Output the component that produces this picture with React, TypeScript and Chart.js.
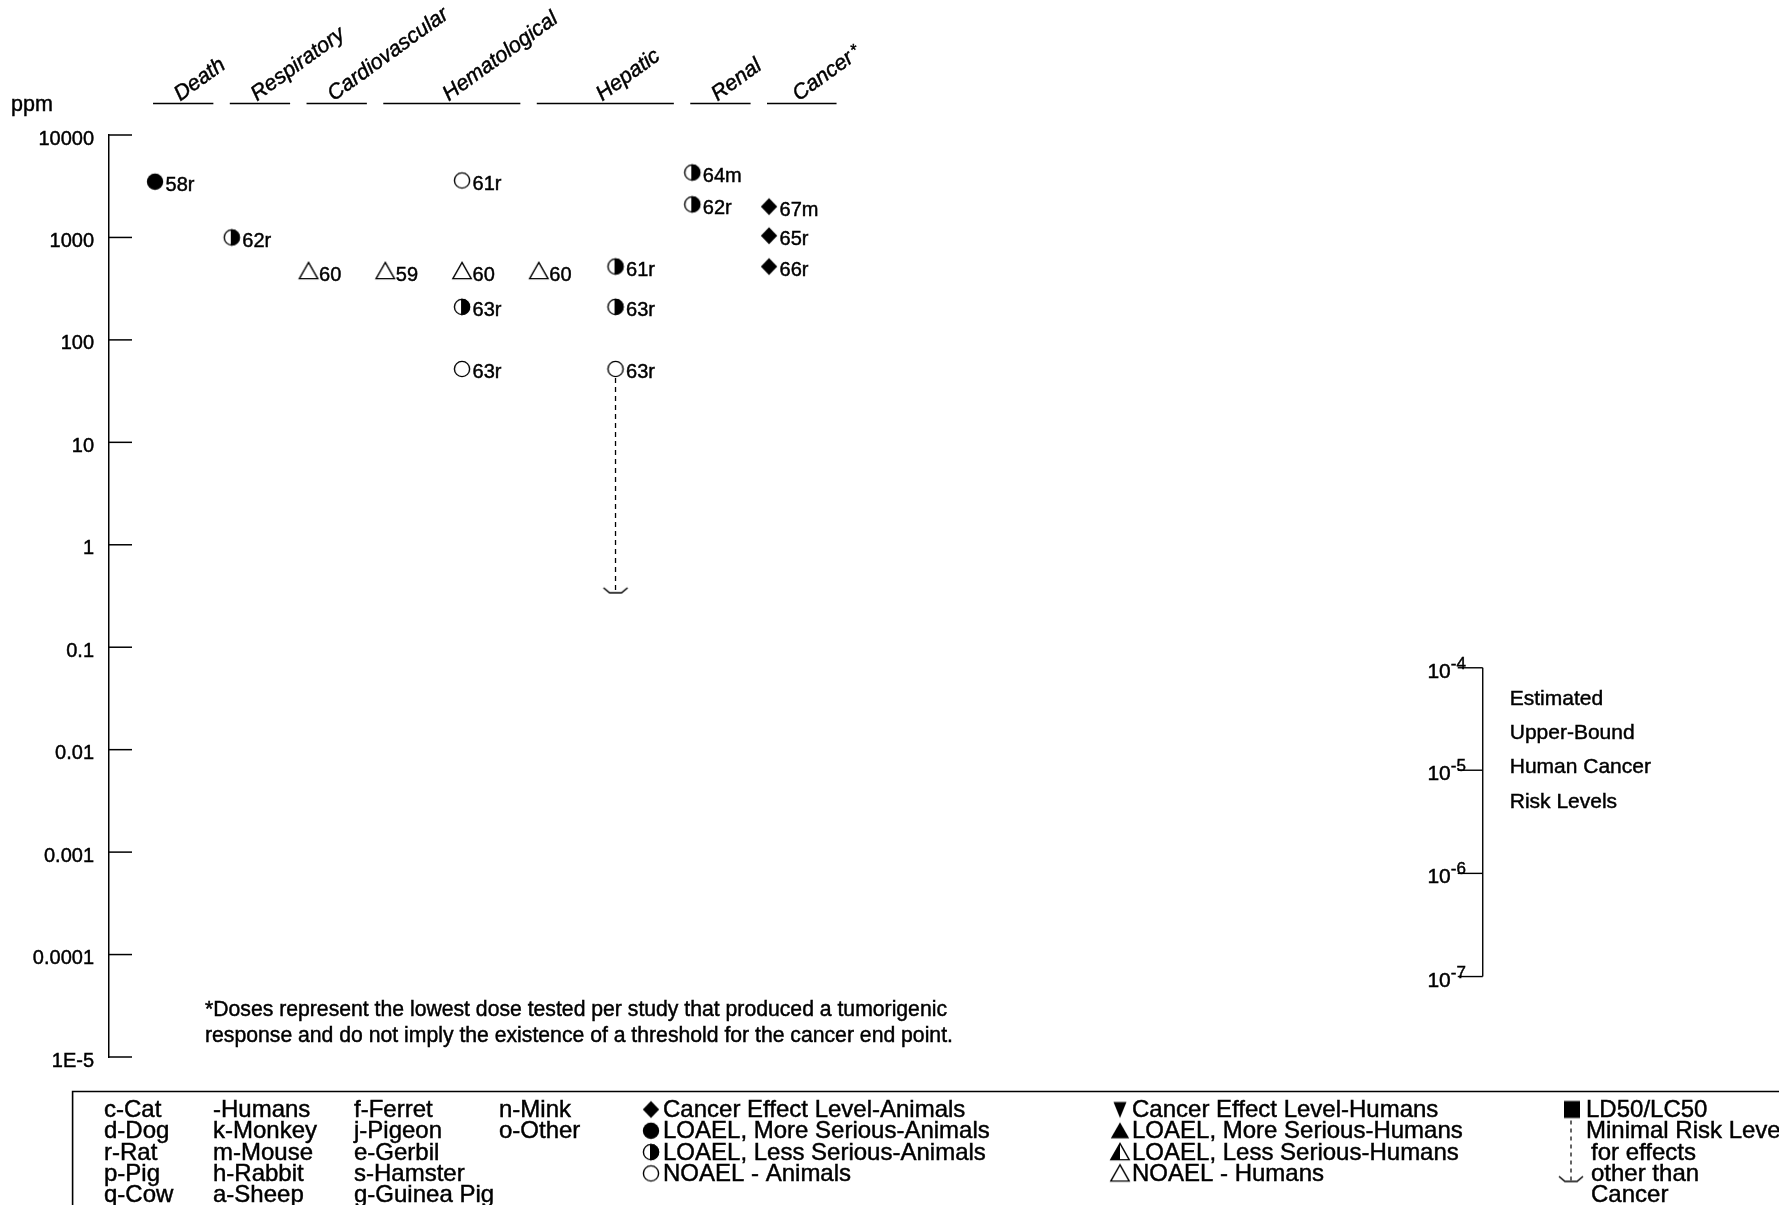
import React, { useEffect, useRef } from 'react';
import { Chart, registerables } from 'chart.js';

Chart.register(...registerables);

const FONT = "'Liberation Sans', Arial, Helvetica, sans-serif";

// ---------------- data ----------------
const axisUnit = 'ppm';
const categoryNames = ['Death', 'Respiratory', 'Cardiovascular', 'Hematological', 'Hepatic', 'Renal', 'Cancer'];
const categoryMarks = ['', '', '', '', '', '', '*'];
const categoryFirstColumn = [0, 1, 2, 3, 5, 7, 8];
const categoryLastColumn = [0, 1, 2, 4, 6, 7, 8];

const yTickValues = [10000, 1000, 100, 10, 1, 0.1, 0.01, 0.001, 0.0001, 0.00001];
const yTickLabels = ['10000', '1000', '100', '10', '1', '0.1', '0.01', '0.001', '0.0001', '1E-5'];

const pointColumns = [0, 1, 2, 3, 4, 4, 4, 4, 5, 6, 6, 6, 7, 7, 8, 8, 8];
const pointValues = [3500, 1000, 470, 470, 3600, 470, 210, 52, 470, 520, 210, 52, 4300, 2100, 2000, 1040, 520];
const pointLabels = ['58r', '62r', '60', '59', '61r', '60', '63r', '63r', '60', '61r', '63r', '63r', '64m', '62r', '67m', '65r', '66r'];
const pointTypes = [
  'loaelMore', 'loaelLess', 'noaelHuman', 'noaelHuman', 'noael', 'noaelHuman', 'loaelLess', 'noael',
  'noaelHuman', 'loaelLess', 'loaelLess', 'noael', 'loaelLess', 'loaelLess', 'cancer', 'cancer', 'cancer',
];

const seriesTypes = ['cancer', 'loaelMore', 'loaelLess', 'noael', 'noaelHuman'];
const seriesNames = [
  'Cancer Effect Level-Animals', 'LOAEL, More Serious-Animals', 'LOAEL, Less Serious-Animals',
  'NOAEL - Animals', 'NOAEL - Humans',
];

const mrlColumn = 6;
const mrlStartValue = 52;
const mrlValue = 0.34;

const riskExponents = ['-4', '-5', '-6', '-7'];
const riskConcentrations = [0.063, 0.0063, 0.00062, 0.000061];
const riskCaption = ['Estimated', 'Upper-Bound', 'Human Cancer', 'Risk Levels'];

const footnoteLines = [
  '*Doses represent the lowest dose tested per study that produced a tumorigenic',
  'response and do not imply the existence of a threshold for the cancer end point.',
];

const speciesColumns = [
  ['c-Cat', 'd-Dog', 'r-Rat', 'p-Pig', 'q-Cow'],
  ['-Humans', 'k-Monkey', 'm-Mouse', 'h-Rabbit', 'a-Sheep'],
  ['f-Ferret', 'j-Pigeon', 'e-Gerbil', 's-Hamster', 'g-Guinea Pig'],
  ['n-Mink', 'o-Other'],
];
const animalKeyKinds = ['cancer', 'loaelMore', 'loaelLess', 'noael'];
const animalKeyText = ['Cancer Effect Level-Animals', 'LOAEL, More Serious-Animals', 'LOAEL, Less Serious-Animals', 'NOAEL - Animals'];
const humanKeyKinds = ['cancerHuman', 'loaelMoreHuman', 'loaelLessHuman', 'noaelHuman'];
const humanKeyText = ['Cancer Effect Level-Humans', 'LOAEL, More Serious-Humans', 'LOAEL, Less Serious-Humans', 'NOAEL - Humans'];
const otherKeyText = ['LD50/LC50', 'Minimal Risk Level', 'for effects', 'other than', 'Cancer'];

// ---------------- layout ----------------
const W = 1779;
const H = 1205;
const X_MIN = -0.6;
const X_MAX = 21.03;
const AXIS_LEFT = 109;
const HEADER_Y = 103.5;
const RISK_RULER_COL = 17.3;
const LEGEND_TOP = 1091.5;
const LEGEND_LEFT = 72.6;
const LEGEND_ROW0 = 1110.5;
const LEGEND_GAP = 21.3;
const TEXT_STROKE = 0.45;

function makeMarker(kind: string): HTMLCanvasElement {
  const w = 24;
  const h = 24;
  const c = document.createElement('canvas');
  c.width = w;
  c.height = h;
  const g = c.getContext('2d') as CanvasRenderingContext2D;
  const cx = w / 2;
  const cy = h / 2;
  g.strokeStyle = '#000';
  g.fillStyle = '#000';
  g.lineWidth = 1.4;
  const tri = (up: boolean) => {
    g.beginPath();
    if (up) {
      g.moveTo(cx, cy - 8.6);
      g.lineTo(cx + 9.2, cy + 7.6);
      g.lineTo(cx - 9.2, cy + 7.6);
    } else {
      g.moveTo(cx, cy + 8.6);
      g.lineTo(cx + 6.5, cy - 7.6);
      g.lineTo(cx - 6.5, cy - 7.6);
    }
    g.closePath();
  };
  switch (kind) {
    case 'loaelMore':
      g.beginPath();
      g.arc(cx, cy, 8.2, 0, Math.PI * 2);
      g.fill();
      break;
    case 'loaelLess':
      g.beginPath();
      g.arc(cx, cy, 7.6, 0, Math.PI * 2);
      g.fillStyle = '#fff';
      g.fill();
      g.stroke();
      g.beginPath();
      g.moveTo(cx - 1, cy - 8.2);
      g.arc(cx, cy, 8.2, -Math.PI / 2, Math.PI / 2);
      g.lineTo(cx - 1, cy + 8.2);
      g.closePath();
      g.fillStyle = '#000';
      g.fill();
      break;
    case 'noael':
      g.beginPath();
      g.arc(cx, cy, 7.6, 0, Math.PI * 2);
      g.fillStyle = '#fff';
      g.fill();
      g.stroke();
      break;
    case 'noaelHuman':
      tri(true);
      g.fillStyle = '#fff';
      g.fill();
      g.stroke();
      break;
    case 'loaelMoreHuman':
      tri(true);
      g.fill();
      break;
    case 'cancerHuman':
      tri(false);
      g.fill();
      break;
    case 'loaelLessHuman':
      tri(true);
      g.fillStyle = '#fff';
      g.fill();
      g.stroke();
      g.beginPath();
      g.moveTo(cx, cy - 8.6);
      g.lineTo(cx, cy + 7.6);
      g.lineTo(cx - 9.2, cy + 7.6);
      g.closePath();
      g.fillStyle = '#000';
      g.fill();
      break;
    case 'cancer':
      g.beginPath();
      g.moveTo(cx, cy - 8.6);
      g.lineTo(cx + 8.2, cy);
      g.lineTo(cx, cy + 8.6);
      g.lineTo(cx - 8.2, cy);
      g.closePath();
      g.fill();
      break;
    case 'ld50':
      g.fillRect(cx - 8, cy - 8.5, 16, 17);
      break;
    default:
      break;
  }
  return c;
}

function makeCup(): HTMLCanvasElement {
  const c = document.createElement('canvas');
  c.width = 28;
  c.height = 14;
  const g = c.getContext('2d') as CanvasRenderingContext2D;
  g.strokeStyle = '#000';
  g.lineWidth = 1.5;
  g.beginPath();
  g.moveTo(2, 2);
  g.lineTo(8, 7);
  g.lineTo(20, 7);
  g.lineTo(26, 2);
  g.stroke();
  return c;
}

function text(ctx: CanvasRenderingContext2D, t: string, x: number, y: number) {
  ctx.fillText(t, x, y);
  ctx.save();
  ctx.lineWidth = TEXT_STROKE;
  ctx.strokeText(t, x, y);
  ctx.restore();
}

export default function App() {
  const ref = useRef<HTMLCanvasElement | null>(null);

  useEffect(() => {
    document.body.style.margin = '0';
    document.body.style.overflow = 'hidden';
    const canvas = ref.current;
    if (!canvas) return;

    const markers: Record<string, HTMLCanvasElement> = {};
    ['loaelMore', 'loaelLess', 'noael', 'noaelHuman', 'loaelMoreHuman', 'cancerHuman', 'loaelLessHuman', 'cancer', 'ld50'].forEach(
      (k) => (markers[k] = makeMarker(k)),
    );
    const cup = makeCup();

    const datasets: any[] = seriesTypes.map((t, si) => {
      const idx = pointTypes.map((p, i) => (p === t ? i : -1)).filter((i) => i >= 0);
      return {
        label: seriesNames[si],
        data: idx.map((i) => ({ x: pointColumns[i], y: pointValues[i] })),
        pointText: idx.map((i) => pointLabels[i]),
        pointStyle: markers[t],
        pointRadius: 8,
        showLine: false,
        order: 0,
      };
    });
    datasets.push({
      label: 'Minimal Risk Level',
      data: [
        { x: mrlColumn, y: mrlStartValue },
        { x: mrlColumn, y: mrlValue },
      ],
      showLine: true,
      borderColor: '#000',
      borderWidth: 1.3,
      borderDash: [5, 4],
      pointStyle: [cup, cup],
      pointRadius: [0, 8],
      order: 1,
    });

    const overlay = {
      id: 'overlay',
      afterDraw(chart: any) {
        const ctx: CanvasRenderingContext2D = chart.ctx;
        const xs = chart.scales.x;
        const ys = chart.scales.y;
        const area = chart.chartArea;
        ctx.save();
        ctx.fillStyle = '#000';
        ctx.strokeStyle = '#000';

        // unit label
        ctx.font = `21.5px ${FONT}`;
        ctx.textAlign = 'left';
        ctx.textBaseline = 'middle';
        text(ctx, axisUnit, 11, 105);

        // inward tick marks
        ctx.lineWidth = 1.5;
        yTickValues.forEach((v) => {
          const y = ys.getPixelForValue(v);
          ctx.beginPath();
          ctx.moveTo(area.left, y);
          ctx.lineTo(area.left + 23, y);
          ctx.stroke();
        });

        // category headers
        const step = xs.getPixelForValue(1) - xs.getPixelForValue(0);
        const ang = (36 * Math.PI) / 180;
        categoryNames.forEach((name, i) => {
          const x0 = xs.getPixelForValue(categoryFirstColumn[i]) - 2;
          const x1 = xs.getPixelForValue(categoryLastColumn[i]) + (categoryMarks[i] ? 0.88 : 0.76) * step;
          ctx.lineWidth = 1.5;
          ctx.beginPath();
          ctx.moveTo(x0, HEADER_Y);
          ctx.lineTo(x1, HEADER_Y);
          ctx.stroke();
          const cx = (x0 + x1) / 2;
          ctx.save();
          ctx.translate(cx - 3, HEADER_Y - 2);
          ctx.rotate(-ang);
          ctx.font = `italic 21.5px ${FONT}`;
          ctx.textBaseline = 'alphabetic';
          ctx.textAlign = 'left';
          text(ctx, name, 0, 0);
          if (categoryMarks[i]) {
            const w = ctx.measureText(name).width;
            ctx.font = `16px ${FONT}`;
            ctx.rotate(ang);
            const ax = (w + 9) * Math.cos(ang);
            const ay = -(w + 9) * Math.sin(ang);
            text(ctx, categoryMarks[i], ax - 12, ay + 1);
          }
          ctx.restore();
        });

        // point labels
        ctx.font = `20px ${FONT}`;
        ctx.textAlign = 'left';
        ctx.textBaseline = 'alphabetic';
        chart.data.datasets.forEach((ds: any, di: number) => {
          if (!ds.pointText) return;
          const meta = chart.getDatasetMeta(di);
          meta.data.forEach((el: any, j: number) => {
            text(ctx, ds.pointText[j], el.x + 10.5, el.y + 9.5);
          });
        });

        // risk ruler
        const rx = xs.getPixelForValue(RISK_RULER_COL);
        const ry = riskConcentrations.map((v) => ys.getPixelForValue(v));
        ctx.lineWidth = 1.4;
        ctx.beginPath();
        ctx.moveTo(rx, ry[0]);
        ctx.lineTo(rx, ry[ry.length - 1]);
        ctx.stroke();
        ry.forEach((y, i) => {
          ctx.lineWidth = 1.4;
          ctx.beginPath();
          ctx.moveTo(rx - 25, y);
          ctx.lineTo(rx, y);
          ctx.stroke();
          ctx.font = `21px ${FONT}`;
          ctx.textAlign = 'right';
          text(ctx, '10', rx - 32, y + 10);
          ctx.font = `17px ${FONT}`;
          ctx.textAlign = 'left';
          text(ctx, riskExponents[i], rx - 32, y + 1);
        });
        ctx.font = `21px ${FONT}`;
        ctx.textAlign = 'left';
        ctx.textBaseline = 'middle';
        riskCaption.forEach((t, i) => text(ctx, t, rx + 27, ry[0] + 31 + i * 34.4));

        // footnote
        ctx.font = `21.2px ${FONT}`;
        footnoteLines.forEach((t, i) => text(ctx, t, 205, 1010 + i * 26));

        // legend box
        ctx.lineWidth = 1.6;
        ctx.beginPath();
        ctx.moveTo(W + 5, LEGEND_TOP);
        ctx.lineTo(LEGEND_LEFT, LEGEND_TOP);
        ctx.lineTo(LEGEND_LEFT, H + 5);
        ctx.stroke();

        ctx.font = `24px ${FONT}`;
        ctx.textBaseline = 'middle';
        ctx.textAlign = 'left';
        const speciesX = [104, 213, 354, 499];
        speciesColumns.forEach((col, ci) =>
          col.forEach((t, ri) => text(ctx, t, speciesX[ci], LEGEND_ROW0 + ri * LEGEND_GAP)),
        );
        const drawKey = (kinds: string[], texts: string[], sx: number, tx: number) => {
          texts.forEach((t, ri) => {
            const y = LEGEND_ROW0 + ri * LEGEND_GAP;
            const m = markers[kinds[ri]];
            ctx.drawImage(m, sx - m.width / 2, y - m.height / 2 - 1);
            text(ctx, t, tx, y);
          });
        };
        drawKey(animalKeyKinds, animalKeyText, 651, 663);
        drawKey(humanKeyKinds, humanKeyText, 1120, 1132);
        // other key
        const sq = markers.ld50;
        ctx.drawImage(sq, 1572 - sq.width / 2, LEGEND_ROW0 - sq.height / 2 - 1);
        otherKeyText.forEach((t, ri) => {
          const x = ri < 2 ? 1586 : 1591;
          text(ctx, t, x, LEGEND_ROW0 + ri * LEGEND_GAP);
        });
        ctx.lineWidth = 1.2;
        ctx.setLineDash([4, 4]);
        ctx.beginPath();
        ctx.moveTo(1571, LEGEND_ROW0 + 10);
        ctx.lineTo(1571, LEGEND_ROW0 + 3 * LEGEND_GAP + 7);
        ctx.stroke();
        ctx.setLineDash([]);
        ctx.drawImage(cup, 1571 - cup.width / 2, LEGEND_ROW0 + 3 * LEGEND_GAP + 7 - cup.height / 2);

        ctx.restore();
      },
    };

    const chart = new Chart(canvas, {
      type: 'scatter',
      data: { datasets },
      options: {
        animation: false,
        responsive: false,
        layout: { padding: { top: 135, bottom: 148, left: 0, right: 10 } },
        plugins: { legend: { display: false }, tooltip: { enabled: false } },
        scales: {
          x: { type: 'linear', display: false, min: X_MIN, max: X_MAX },
          y: {
            type: 'logarithmic',
            position: 'left',
            min: 0.00001,
            max: 10000,
            afterBuildTicks: (s: any) => {
              s.ticks = yTickValues.slice().reverse().map((v) => ({ value: v }));
            },
            afterFit: (s: any) => {
              s.width = AXIS_LEFT;
            },
            ticks: {
              autoSkip: false,
              padding: 15,
              labelOffset: 4,
              color: '#000',
              textStrokeColor: '#000',
              textStrokeWidth: TEXT_STROKE,
              font: { family: FONT, size: 20 },
              callback: (v: any) => {
                const i = yTickValues.findIndex((t) => Math.abs(Math.log10(t) - Math.log10(Number(v))) < 1e-6);
                return i >= 0 ? yTickLabels[i] : '';
              },
            },
            grid: { drawOnChartArea: false, drawTicks: false },
            border: { display: true, color: '#000', width: 1.5 },
          },
        },
      } as any,
      plugins: [overlay],
    });

    return () => chart.destroy();
  }, []);

  return (
    <canvas
      ref={ref}
      width={W}
      height={H}
      style={{ display: 'block', width: W, height: H, background: '#fff' }}
    />
  );
}
